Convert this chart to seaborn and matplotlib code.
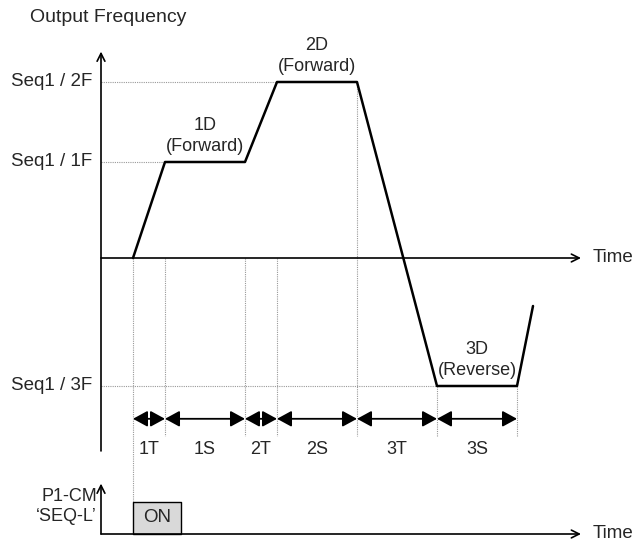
import matplotlib
matplotlib.use("Agg")
import matplotlib.pyplot as plt
from matplotlib import font_manager
import seaborn as sns
import pandas as pd

# --- Data (time units, frequency units) ---
profile_t = [2, 4, 9, 11, 16, 21, 26, 27]
profile_f = [0, 6, 6, 11, 11, -8, -8, -3]

level_labels = ["Seq1 / 2F", "Seq1 / 1F", "Seq1 / 3F"]
level_values = [11, 6, -8]
level_reach_t = [11, 4, 21]

segment_edges = [2, 4, 9, 11, 16, 21, 26]
segment_labels = ["1T", "1S", "2T", "2S", "3T", "3S"]

step_names = ["1D", "2D", "3D"]
step_dirs = ["(Forward)", "(Forward)", "(Reverse)"]
step_t = [6.5, 13.5, 23.5]
step_f = [6, 11, -8]

on_start, on_end = 2, 5

# --- Style ---
sns.set_style("white")
names = {f.name for f in font_manager.fontManager.ttflist}
if "Liberation Sans Narrow" in names:
    FONT, FS = "Liberation Sans Narrow", 16
else:
    FONT, FS = "Liberation Sans", 13.5
plt.rcParams["font.family"] = [FONT, "DejaVu Sans"]

fig = plt.figure(figsize=(6.44, 5.45), dpi=100)
ax = fig.add_axes([0, 0, 1, 1])
# 16 px per unit, origin at pixel (101, 258)
ax.set_xlim(-101 / 16, (644 - 101) / 16)
ax.set_ylim((258 - 545) / 16, 258 / 16)
ax.axis("off")

BOT = -17.25
DIM_Y = -10.05

# --- Dotted guide lines ---
dot = dict(color="#999999", lw=0.8, ls=(0, (1, 1)))
for lab, v, t in zip(level_labels, level_values, level_reach_t):
    ax.plot([0, t], [v, v], **dot)
    ax.text(-0.55, v, lab, ha="right", va="center", fontsize=FS)
for i, t in enumerate(segment_edges):
    bottom = -15.25 if i == 0 else -11.1
    if t < 16:
        top = 0
    elif t == 16:
        top = 11
    else:
        top = -8
    ax.plot([t, t], [top, bottom], **dot)

# --- Axes arrows ---
arr = dict(arrowstyle="->", lw=1.2, color="black", mutation_scale=14, shrinkA=0, shrinkB=0)
ax.annotate("", xy=(0, 12.9), xytext=(0, -12.06), arrowprops=arr)
ax.annotate("", xy=(30, 0), xytext=(0, 0), arrowprops=arr)
ax.text(-4.45, 15.0, "Output Frequency", ha="left", va="center", fontsize=FS + 0.5)
ax.text(30.7, 0, "Time", ha="left", va="center", fontsize=FS)

# --- Profile ---
df = pd.DataFrame({"t": profile_t, "f": profile_f})
sns.lineplot(data=df, x="t", y="f", sort=False, color="black", lw=1.8, ax=ax)
ax.set_xlabel("")
ax.set_ylabel("")

for n, d, t, f in zip(step_names, step_dirs, step_t, step_f):
    ax.text(t, f + 0.95, d, ha="center", va="center", fontsize=FS - 0.5)
    ax.text(t, f + 2.3, n, ha="center", va="center", fontsize=FS - 0.5)

# --- Dimension arrows ---
dim = dict(arrowstyle="<|-|>,head_length=0.55,head_width=0.3", lw=1.3, color="black",
           mutation_scale=16, shrinkA=0, shrinkB=0)
for a, b, lab in zip(segment_edges[:-1], segment_edges[1:], segment_labels):
    ax.annotate("", xy=(b, DIM_Y), xytext=(a, DIM_Y), arrowprops=dim)
    ax.text((a + b) / 2, -12.0, lab, ha="center", va="center", fontsize=FS - 0.5)

# --- Bottom input signal ---
ax.annotate("", xy=(0, -14.1), xytext=(0, BOT), arrowprops=arr)
ax.annotate("", xy=(30, BOT), xytext=(0, BOT), arrowprops=arr)
ax.text(30.7, BOT, "Time", ha="left", va="center", fontsize=FS)
ax.fill_between([on_start, on_end], BOT, BOT + 2, color="#d9d9d9", edgecolor="black", lw=1.0)
ax.text((on_start + on_end) / 2, BOT + 1, "ON", ha="center", va="center", fontsize=FS)
ax.text(-0.25, -14.9, "P1-CM", ha="right", va="center", fontsize=FS - 0.5)
ax.text(-0.25, -16.15, "\u2018SEQ-L\u2019", ha="right", va="center", fontsize=FS - 0.5)

fig.savefig("out.png", dpi=100)
